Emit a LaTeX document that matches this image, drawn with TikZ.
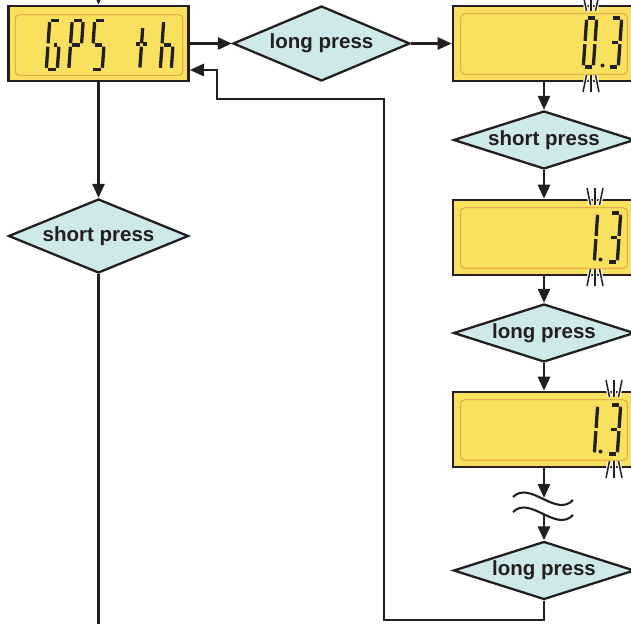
\documentclass[tikz,border=0pt]{standalone}
\usepackage{fontspec}
\setmainfont{Liberation Sans}
\usetikzlibrary{arrows.meta,shapes.geometric}
\definecolor{ink}{RGB}{35,31,32}
\definecolor{lcd}{RGB}{249,225,95}
\definecolor{lcdline}{RGB}{214,150,60}
\definecolor{dia}{RGB}{207,232,234}
\def\lcdW{5.5}
\def\lcdH{24.5}
\def\lcdG{1.7}
\newcommand{\lcA}{\draw[segline] (-\lcdW+\lcdG,-\lcdH) -- (\lcdW-\lcdG,-\lcdH);}
\newcommand{\lcB}{\draw[segline] (\lcdW,-\lcdH+\lcdG) -- (\lcdW,-\lcdG);}
\newcommand{\lcC}{\draw[segline] (\lcdW,\lcdG) -- (\lcdW,\lcdH-\lcdG);}
\newcommand{\lcD}{\draw[segline] (-\lcdW+\lcdG,\lcdH) -- (\lcdW-\lcdG,\lcdH);}
\newcommand{\lcE}{\draw[segline] (-\lcdW,\lcdG) -- (-\lcdW,\lcdH-\lcdG);}
\newcommand{\lcF}{\draw[segline] (-\lcdW,-\lcdH+\lcdG) -- (-\lcdW,-\lcdG);}
\newcommand{\lcM}{\draw[segline] (-\lcdW+\lcdG,0) -- (\lcdW-\lcdG,0);}
\newcommand{\lcMr}{\draw[segline] (0.5,0) -- (\lcdW-\lcdG,0);}
\newcommand{\lcT}{\draw[segline] (0,-17) -- (0,-\lcdG) (0,\lcdG) -- (0,\lcdH-2);
  \draw[segline] (-\lcdW,-1) -- (-1.5,-1) (1.5,-1) -- (\lcdW,-1);}
\newcommand{\lcdchar}[3]{\begin{scope}[shift={(#1,#2)},xslant=0.07]#3\end{scope}}
\newcommand{\blinktop}[2]{%
  \foreach \dx/\ex in {-8/-4.5,0/0,8/4.5}{%
    \draw[blinkhalo] (#1+\dx,#2-12) -- (#1+\ex,#2+5);
    \draw[blinkline] (#1+\dx,#2-12) -- (#1+\ex,#2+5);}}
\newcommand{\blinkbot}[2]{%
  \foreach \dx/\ex in {-8/-4.5,0/0,8/4.5}{%
    \draw[blinkhalo] (#1+\ex,#2-6) -- (#1+\dx,#2+11);
    \draw[blinkline] (#1+\ex,#2-6) -- (#1+\dx,#2+11);}}
\begin{document}
\begin{tikzpicture}[x=1pt,y=-1pt,
  lcdbox/.style={draw=ink, line width=2.6pt, fill=lcd, minimum width=180pt, minimum height=75pt, inner sep=0pt},
  decision/.style={diamond, draw=ink, line width=2.3pt, fill=dia, inner sep=0pt, text=ink,
    font=\fontsize{20.5}{24}\selectfont\bfseries},
  conn/.style={draw=ink, line width=2.7pt},
  arr/.style={conn, -{Triangle[length=14pt,width=12pt]}},
  innerframe/.style={draw=lcdline, line width=0.8pt, rounded corners=4pt},
  segline/.style={draw=ink, line width=3.3pt},
  blinkhalo/.style={draw=white, line width=3.8pt},
  blinkline/.style={draw=ink, line width=1.5pt},
  wave/.style={draw=ink, line width=2.1pt}]
\path[use as bounding box] (0,0) rectangle (631,623);
\clip (0,0) rectangle (631,623);
\fill[white] (0,0) rectangle (631,623);

% boxes
\node[lcdbox] (gps) at (98.5,43.5) {};
\node[lcdbox, minimum width=182pt] (b1) at (544,43.5) {};
\node[lcdbox, minimum width=182pt] (b2) at (544,237.5) {};
\node[lcdbox, minimum width=182pt] (b3) at (544,429.5) {};
\draw[innerframe] ([shift={(8,10)}]gps.north west) rectangle ([shift={(-7,-7)}]gps.south east);
\foreach \b in {b1,b2,b3}{
  \draw[innerframe] ([shift={(9,9)}]\b.north west) rectangle ([shift={(-9,-8)}]\b.south east);}

% GPS th
\lcdchar{53.5}{45}{\lcA\lcF\lcE\lcD\lcC\lcMr}
\lcdchar{76}{45}{\lcA\lcB\lcF\lcE\lcM}
\lcdchar{98.5}{45}{\lcA\lcF\lcM\lcC\lcD}
\lcdchar{141.5}{45}{\lcT}
\lcdchar{167.5}{45}{\lcF\lcE\lcM\lcC}

% 0.3
\def\lcdW{5}
\lcdchar{590}{42.5}{\lcA\lcB\lcC\lcD\lcE\lcF}
\fill[ink] (602.5,65.5) circle (2);
\lcdchar{615}{42.5}{\lcA\lcB\lcM\lcC\lcD}
% 1.3
\lcdchar{591}{237.5}{\lcB\lcC}
\fill[ink] (600.5,259.5) circle (2);
\lcdchar{614}{237.5}{\lcA\lcB\lcM\lcC\lcD}
% 1.3
\lcdchar{591}{429.5}{\lcB\lcC}
\fill[ink] (600.5,451.5) circle (2);
\lcdchar{614}{429.5}{\lcA\lcB\lcM\lcC\lcD}

% blink marks
\blinktop{591}{6}
\blinkbot{591}{81}
\blinktop{595}{200}
\blinkbot{595}{275}
\blinktop{614}{392}
\blinkbot{614}{467}

% decisions
\node[decision, aspect=2.4, minimum width=180pt, minimum height=74pt] (d1) at (98.5,236) {short press};
\node[decision, aspect=2.36, minimum width=177pt, minimum height=75pt] (dl) at (321.5,43.5) {long press};
\node[decision, aspect=3.1, minimum width=181pt, minimum height=58pt] (ds) at (544,140) {short press};
\node[decision, aspect=3.1, minimum width=181pt, minimum height=58pt] (dl2) at (544,333) {long press};
\node[decision, aspect=3.1, minimum width=181pt, minimum height=58pt] (dl3) at (544,570.5) {long press};

% coordinates
\coordinate (topin) at (98.5,-20);
\coordinate (leftend) at (98.5,640);
\coordinate (brk1) at (544,498);
\coordinate (brk2) at (544,514);
\coordinate (r1) at (384,620);
\coordinate (r2) at (384,99);
\coordinate (r3) at (217,99);
\coordinate (r4) at (217,70);

% connectors
\draw[arr] (topin) -- (gps.north);
\draw[arr] (gps.south) -- (d1.north);
\draw[conn] (d1.south) -- (leftend);
\draw[arr] (gps.east) -- (dl.west);
\draw[arr] (dl.east) -- (b1.west);
\draw[arr] (b1.south) -- (ds.north);
\draw[arr] (ds.south) -- (b2.north);
\draw[arr] (b2.south) -- (dl2.north);
\draw[arr] (dl2.south) -- (b3.north);
\draw[arr] (b3.south) -- (brk1);
\draw[arr] (brk2) -- (dl3.north);
\draw[arr] (dl3.south) |- (r1) -- (r2) -- (r3) -- (r4) -- (r4 -| gps.east);

% break marks
\draw[wave] (513,497) .. controls (530,480) and (556,518) .. (573,500);
\draw[wave] (513,512) .. controls (530,495) and (556,533) .. (573,515);
\end{tikzpicture}
\end{document}
